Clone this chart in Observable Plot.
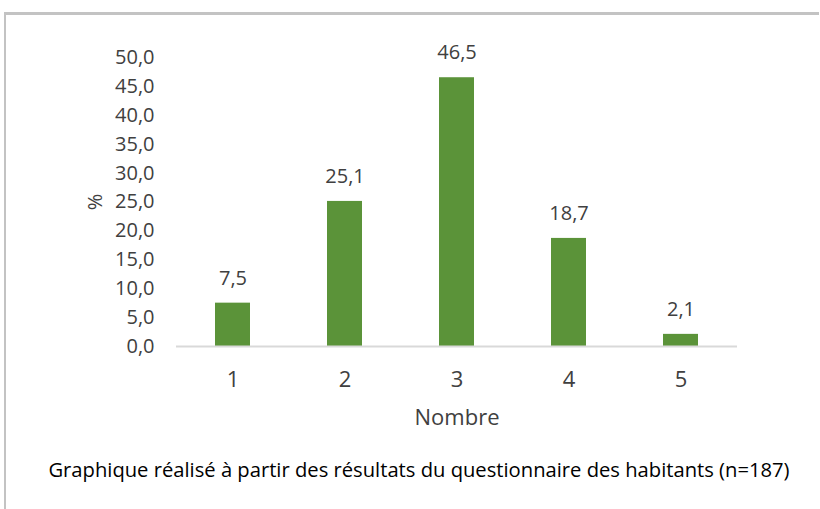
<!DOCTYPE html>
<html>
<head>
<meta charset="utf-8">
<script src="https://cdn.jsdelivr.net/npm/d3@7"></script>
<script src="https://cdn.jsdelivr.net/npm/@observablehq/plot@0.6"></script>
<style>
  html, body { margin: 0; padding: 0; background: #fff; width: 820px; height: 509px; overflow: hidden; }
  #frame { position: absolute; left: 4px; top: 12px; width: 813px; height: 520px;
           border-top: 3px solid #c3c3c3; border-left: 2px solid #c3c3c3; }
  #chart { position: absolute; left: 0; top: 0; }
  #caption { position: absolute; left: 0; width: 838px; top: 455px; text-align: center;
             font-family: "Open Sans", sans-serif; font-size: 20.2px; color: #000; }
</style>
</head>
<body>
<div id="frame"></div>
<div id="chart"></div>
<div id="caption">Graphique réalisé à partir des résultats du questionnaire des habitants (n=187)</div>
<script>
const categories = ["1", "2", "3", "4", "5"];
const values = [7.5, 25.1, 46.5, 18.7, 2.1];
const yTicks = [0, 5, 10, 15, 20, 25, 30, 35, 40, 45, 50];
const xLabel = "Nombre";
const yLabel = "%";

const data = categories.map((c, i) => ({cat: c, value: values[i]}));
const fmt = v => v.toFixed(1).replace(".", ",");

const plot = Plot.plot({
  width: 820,
  height: 440,
  marginLeft: 176,
  marginRight: 83,
  marginTop: 57,
  marginBottom: 94,
  style: { fontFamily: "Open Sans, sans-serif", fontSize: "20px", color: "#404040", background: "transparent" },
  x: { domain: categories, paddingInner: 0.688, paddingOuter: 0.344, label: null },
  y: { domain: [0, 50], label: null },
  marks: [
    Plot.barY(data, { x: "cat", y: "value", fill: "#5b9339" }),
    Plot.ruleY([0], { stroke: "#d9d9d9", strokeWidth: 2 }),
    Plot.text(data, { x: "cat", y: "value", text: d => fmt(d.value), dy: -25, fill: "#404040", fontSize: 20 }),
    Plot.axisY({ ticks: yTicks, tickFormat: fmt, tickSize: 0, tickPadding: 22, label: yLabel, labelAnchor: "center", labelArrow: "none", labelOffset: 89, fontSize: 20 }),
    Plot.axisX({ tickSize: 0, tickPadding: 25, label: xLabel, labelAnchor: "center", labelArrow: "none", labelOffset: 78, fontSize: 22 })
  ]
});
document.getElementById("chart").appendChild(plot);
</script>
</body>
</html>
